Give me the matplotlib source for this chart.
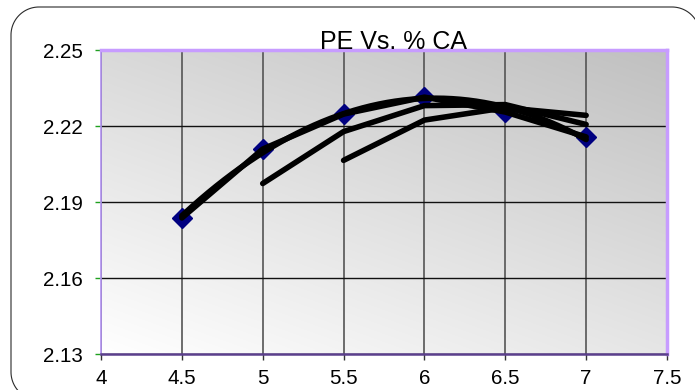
import numpy as np
import matplotlib
matplotlib.use("Agg")
import matplotlib.pyplot as plt
from matplotlib.lines import Line2D

# ---- data ----
ca_pct = [4.5, 5.0, 5.5, 6.0, 6.5, 7.0]
pe_values = [2.1837, 2.2109, 2.2247, 2.2314, 2.2255, 2.2157]
title_text = "PE Vs. % CA"
x_ticks = [4, 4.5, 5, 5.5, 6, 6.5, 7, 7.5]
x_tick_labels = ["4", "4.5", "5", "5.5", "6", "6.5", "7", "7.5"]
y_ticks = [2.13, 2.16, 2.19, 2.22, 2.25]
y_tick_labels = ["2.13", "2.16", "2.19", "2.22", "2.25"]

plt.rcParams['font.family'] = ['Liberation Sans', 'DejaVu Sans']

W, H = 695, 390
fig = plt.figure(figsize=(W / 100, H / 100), dpi=100)
fig.patch.set_facecolor('white')

# outer rounded border: visible part only (figure-pixel geometry, top-left origin)
r = 28
left, top, right, bottom = 11, 7, 700, 400
th = np.linspace(0, np.pi / 2, 30)
bl_x = left + r - r * np.cos(th[::-1]) ; bl_y = bottom - r + r * np.sin(th[::-1])
pts_x = list(bl_x[::-1])
pts_y = list(bl_y[::-1])
# bottom-left arc (from bottom edge up to left edge)
arc_bl_x = left + r - r * np.sin(th)
arc_bl_y = bottom - r + r * np.cos(th)
# top-left arc
arc_tl_x = left + r - r * np.cos(th)
arc_tl_y = top + r - r * np.sin(th)
# top-right arc
arc_tr_x = right - r + r * np.sin(th)
arc_tr_y = top + r - r * np.cos(th)
bx = np.concatenate([arc_bl_x, arc_tl_x, arc_tr_x])
by = np.concatenate([arc_bl_y, arc_tl_y, arc_tr_y])
fig.add_artist(Line2D(bx / W, 1 - by / H, transform=fig.transFigure,
                      color='#2a2a2a', linewidth=0.8, solid_joinstyle='round'))

ax = fig.add_axes([101 / W, 1 - 354 / H, (667 - 101) / W, (354 - 50) / H])
ax.set_xlim(4, 7.5)
ax.set_ylim(2.13, 2.25)

# gradient background
n = 200
gx, gy = np.meshgrid(np.linspace(0, 1, n), np.linspace(0, 1, n))
t = 0.6 * gy + 0.4 * gx
g = 1.0 - t * (63 / 255)
img = np.dstack([g, g, g])
ax.imshow(img, extent=[0, 1, 0, 1], transform=ax.transAxes, origin='lower',
          aspect='auto', zorder=0, interpolation='bilinear')

ax.set_axisbelow(True)
ax.xaxis.grid(True, color='#555555', linewidth=1.2)
ax.yaxis.grid(True, color='#111111', linewidth=1.0)

x = np.array(ca_pct)
y = np.array(pe_values)

# markers
ax.plot(x, y, linestyle='none', marker='D', markersize=10, color='#000080', zorder=3)

# series line
ax.plot(x, y, color='black', linewidth=4.0, solid_capstyle='round',
        solid_joinstyle='round', zorder=4)

# polynomial trendline (order 2)
coef = np.polyfit(x, y, 2)
xs = np.linspace(x[0], x[-1], 200)
ax.plot(xs, np.polyval(coef, xs), color='black', linewidth=4.0, solid_capstyle='round', zorder=4)

# moving-average trendlines
for per in (2, 3):
    ma = np.convolve(y, np.ones(per) / per, mode='valid')
    ax.plot(x[per - 1:], ma, color='black', linewidth=4.0, solid_capstyle='round',
            solid_joinstyle='round', zorder=4)

ax.set_xticks(x_ticks)
ax.set_xticklabels(x_tick_labels)
ax.set_yticks(y_ticks)
ax.set_yticklabels(y_tick_labels)
ax.tick_params(axis='y', direction='out', length=4.3, width=1, color='#20a020', pad=9,
               labelsize=14.8, labelcolor='black')
ax.tick_params(axis='x', direction='out', length=4.3, width=1, color='#333333', pad=6.5,
               labelsize=14.8, labelcolor='black')

for side in ('top', 'right'):
    ax.spines[side].set_color('#c79cff')
    ax.spines[side].set_linewidth(2.5)
ax.spines['left'].set_color('#b090f0')
ax.spines['left'].set_linewidth(1.2)
ax.spines['bottom'].set_color('#5b3f8c')
ax.spines['bottom'].set_linewidth(1.8)

fig.text(393.5 / W, 1 - 49 / H, title_text, ha='center', va='baseline', fontsize=18, color='black')

fig.savefig('out.png', dpi=100)
